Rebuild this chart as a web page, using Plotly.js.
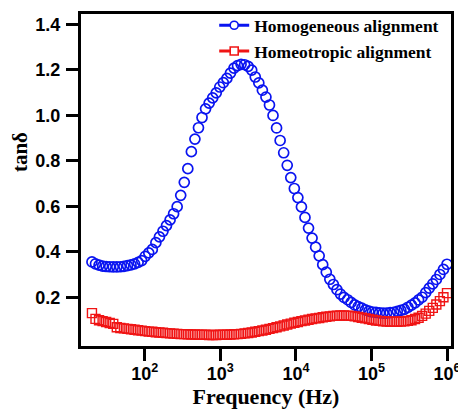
<!DOCTYPE html>
<html>
<head>
<meta charset="utf-8">
<script src="https://cdn.plot.ly/plotly-3.0.1.min.js"></script>
<style>html,body{margin:0;padding:0;background:#fff;}#chart{width:458px;height:409px;}</style>
</head>
<body>
<div id="chart"></div>
<script>
// Frequency grid (Hz)
const frequency = [19.95,22.23,24.77,27.61,30.76,34.28,38.19,42.56,47.42,52.84,
58.88,65.61,73.11,81.47,90.78,101.2,112.7,125.6,140.0,156.0,
173.8,193.6,215.8,240.4,267.9,298.5,332.7,370.7,413.0,460.3,
512.9,571.5,636.8,709.6,790.7,881.0,981.7,1094,1219,1358,
1514,1687,1879,2094,2333,2600,2897,3228,3597,4009,
4467,4977,5546,6180,6887,7674,8551,9528,10617,11830,
13183,14689,16368,18239,20324,22646,25235,28119,31333,34914,
38905,43351,48306,53827,59979,66834,74473,82985,92470,103039,
114815,127938,142561,158855,177011,197242,219786,244906,272898,304089,
338844,377572,420727,468813,522396,582103,648634,722770,805378,897428,
1000000];

// tan(delta), homogeneous alignment
const homogeneous = [0.355,0.347,0.341,0.337,0.335,0.334,0.333,0.333,0.334,0.336,
0.339,0.342,0.347,0.353,0.361,0.380,0.395,0.410,0.440,0.465,
0.490,0.515,0.540,0.567,0.598,0.648,0.705,0.765,0.840,0.895,
0.945,0.990,1.028,1.053,1.076,1.098,1.124,1.143,1.162,1.185,
1.207,1.218,1.224,1.222,1.215,1.198,1.168,1.142,1.110,1.080,
1.045,0.999,0.944,0.889,0.835,0.780,0.726,0.678,0.638,0.597,
0.551,0.504,0.460,0.420,0.382,0.343,0.310,0.279,0.256,0.233,
0.214,0.199,0.189,0.177,0.166,0.159,0.152,0.144,0.139,0.135,
0.133,0.131,0.130,0.130,0.132,0.134,0.138,0.142,0.147,0.156,
0.165,0.175,0.188,0.200,0.220,0.240,0.259,0.278,0.300,0.322,
0.345];

// tan(delta), homeotropic alignment
const homeotropic = [0.130,0.105,0.099,0.095,0.091,0.087,0.083,0.068,0.065,0.063,
0.061,0.059,0.057,0.055,0.053,0.051,0.049,0.048,0.046,0.045,
0.044,0.042,0.041,0.040,0.039,0.038,0.038,0.037,0.036,0.036,
0.035,0.035,0.035,0.034,0.034,0.034,0.035,0.035,0.035,0.036,
0.037,0.038,0.039,0.041,0.043,0.045,0.048,0.051,0.054,0.057,
0.061,0.064,0.068,0.072,0.076,0.080,0.084,0.088,0.091,0.095,
0.098,0.101,0.104,0.107,0.109,0.112,0.114,0.116,0.118,0.119,
0.120,0.120,0.119,0.118,0.116,0.113,0.110,0.107,0.104,0.101,
0.098,0.096,0.094,0.093,0.092,0.092,0.092,0.093,0.094,0.096,
0.099,0.104,0.110,0.118,0.128,0.140,0.153,0.168,0.183,0.200,
0.218];

const seriesNames = ['Homogeneous alignment', 'Homeotropic alignment'];
const xTickVals = [100, 1000, 10000, 100000, 1000000];
const xTickText = ['10<sup>2</sup>','10<sup>3</sup>','10<sup>4</sup>','10<sup>5</sup>','10<sup>6</sup>'];
const yTickVals = [0.2, 0.4, 0.6, 0.8, 1.0, 1.2, 1.4];

const BLUE = '#0a14f0';
const RED = '#f01414';
const sans = 'Liberation Sans';
const serif = 'Liberation Serif';

const traces = [
  {x: frequency, y: homogeneous, type: 'scatter', mode: 'markers', showlegend: false,
   marker: {symbol: 'circle-open', size: 10, color: BLUE, line: {width: 1.7, color: BLUE}}},
  {x: frequency, y: homeotropic, type: 'scatter', mode: 'markers', showlegend: false,
   marker: {symbol: 'square-open', size: 9, color: RED, line: {width: 1.4, color: RED}}},
  {x: [null], y: [null], type: 'scatter', mode: 'lines+markers', name: '<b>' + seriesNames[0] + '</b>',
   line: {color: BLUE, width: 3}, marker: {symbol: 'circle', size: 8, color: '#ffffff', line: {width: 1.6, color: BLUE}}},
  {x: [null], y: [null], type: 'scatter', mode: 'lines+markers', name: '<b>' + seriesNames[1] + '</b>',
   line: {color: RED, width: 3}, marker: {symbol: 'square', size: 8, color: '#ffffff', line: {width: 1.6, color: RED}}}
];

const layout = {
  width: 458, height: 409,
  margin: {l: 81, r: 7, t: 12, b: 63},
  paper_bgcolor: '#ffffff', plot_bgcolor: '#ffffff',
  font: {family: serif, size: 14, color: '#000000'},
  showlegend: true,
  legend: {x: 0.36, xanchor: 'left', y: 1.02, yanchor: 'top', bgcolor: 'rgba(0,0,0,0)',
           font: {family: serif, size: 17.5, color: '#000000'}, tracegroupgap: 0},
  xaxis: {
    type: 'log', range: [1.155, 6.053],
    tickmode: 'array', tickvals: xTickVals, ticktext: xTickText,
    ticks: 'outside', ticklen: 12, tickwidth: 3, tickcolor: '#000',
    ticklabeloverflow: 'allow', ticklabelstandoff: -3,
    showline: true, linewidth: 3, linecolor: '#000', mirror: true,
    showgrid: false, zeroline: false,
    tickfont: {family: sans, size: 18, color: '#000', weight: 'bold'},
    title: {text: '<b>Frequency (Hz)</b>', font: {family: serif, size: 22, color: '#000'}, standoff: 0}
  },
  yaxis: {
    range: [-0.0144, 1.445],
    tickmode: 'array', tickvals: yTickVals, tickformat: '.1f',
    ticks: 'outside', ticklen: 12, tickwidth: 3, tickcolor: '#000',
    ticklabelstandoff: 2,
    showline: true, linewidth: 3, linecolor: '#000', mirror: true,
    showgrid: false, zeroline: false,
    tickfont: {family: sans, size: 18, color: '#000', weight: 'bold'}
  },
  annotations: [{
    text: '<b>tanδ</b>', textangle: -90, xref: 'paper', yref: 'paper',
    x: -0.165, y: 0.584, xanchor: 'center', yanchor: 'middle', showarrow: false,
    font: {family: serif, size: 21, color: '#000'}
  }]
};

Plotly.newPlot('chart', traces, layout, {displayModeBar: false, staticPlot: true});
</script>
</body>
</html>
